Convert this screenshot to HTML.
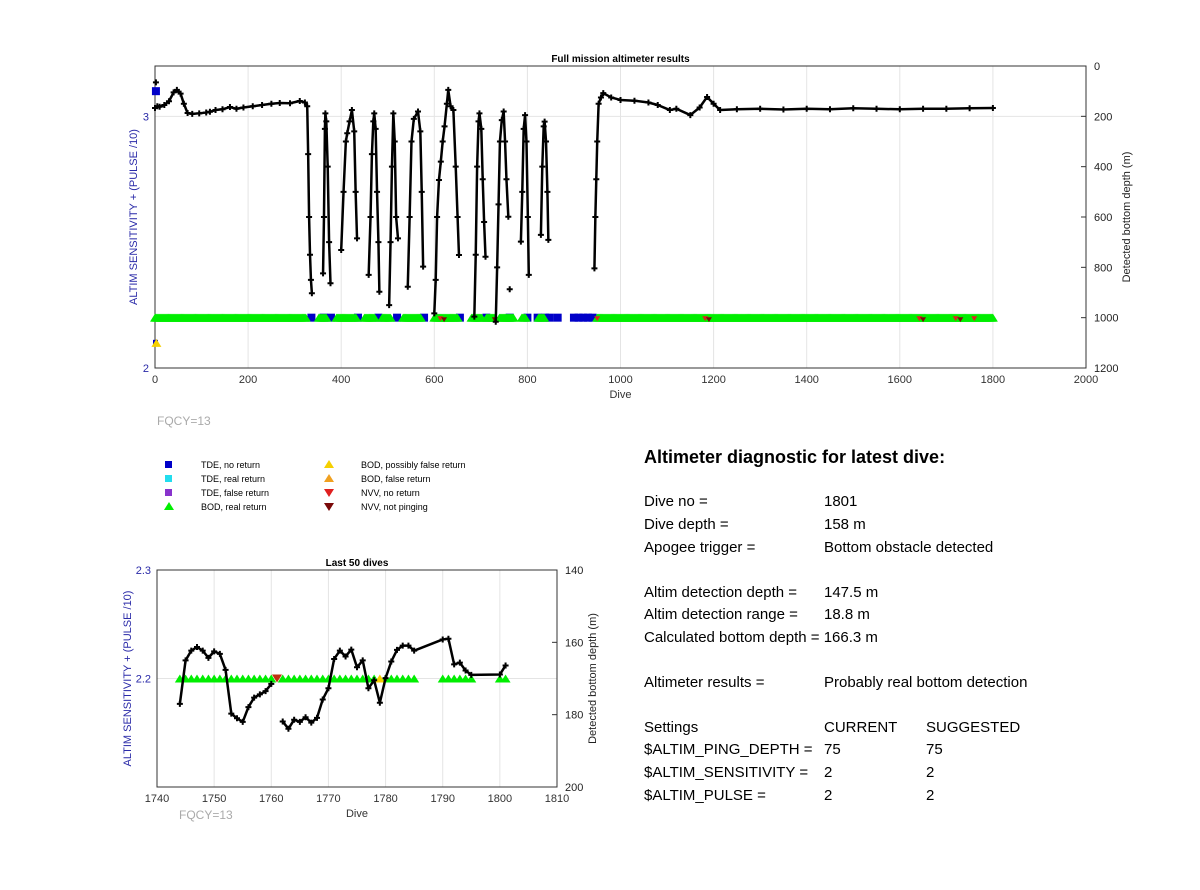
<!DOCTYPE html>
<html><head><meta charset="utf-8"><style>
body{margin:0;background:#fff;}
svg text{font-family:"Liberation Sans",Arial,sans-serif;}
.t{font-size:15px;fill:#000;}
</style></head><body>
<svg width="1200" height="885" viewBox="0 0 1200 885" xmlns="http://www.w3.org/2000/svg">
<g id="top"></g>
<g id="bot"></g>
<g font-size="9">
 <rect x="165" y="461" width="7" height="7" fill="#0000c8"/><text x="201" y="468">TDE, no return</text>
 <rect x="165" y="475" width="7" height="7" fill="#22ddee"/><text x="201" y="482">TDE, real return</text>
 <rect x="165" y="489" width="7" height="7" fill="#8833cc"/><text x="201" y="496">TDE, false return</text>
 <polygon points="164,510 169,502 174,510" fill="#00ee00"/><text x="201" y="510">BOD, real return</text>
 <polygon points="324,468 329,460 334,468" fill="#f5d000"/><text x="361" y="468">BOD, possibly false return</text>
 <polygon points="324,482 329,474 334,482" fill="#f0a020"/><text x="361" y="482">BOD, false return</text>
 <polygon points="324,489 334,489 329,497" fill="#e02020"/><text x="361" y="496">NVV, no return</text>
 <polygon points="324,503 334,503 329,511" fill="#7a0a0a"/><text x="361" y="510">NVV, not pinging</text>
</g>
<text x="157" y="425" font-size="12" fill="#aaa">FQCY=13</text>
<text x="179" y="819" font-size="12" fill="#aaa">FQCY=13</text>
<g>
 <text x="644" y="463" font-size="18" font-weight="bold">Altimeter diagnostic for latest dive:</text>
 <text class="t" x="644" y="506">Dive no =</text><text class="t" x="824" y="506">1801</text>
 <text class="t" x="644" y="529">Dive depth =</text><text class="t" x="824" y="529">158 m</text>
 <text class="t" x="644" y="552">Apogee trigger =</text><text class="t" x="824" y="552">Bottom obstacle detected</text>
 <text class="t" x="644" y="597">Altim detection depth =</text><text class="t" x="824" y="597">147.5 m</text>
 <text class="t" x="644" y="619">Altim detection range =</text><text class="t" x="824" y="619">18.8 m</text>
 <text class="t" x="644" y="642">Calculated bottom depth = 166.3 m</text>
 <text class="t" x="644" y="687">Altimeter results =</text><text class="t" x="824" y="687">Probably real bottom detection</text>
 <text class="t" x="644" y="732">Settings</text><text class="t" x="824" y="732">CURRENT</text><text class="t" x="926" y="732">SUGGESTED</text>
 <text class="t" x="644" y="754">$ALTIM_PING_DEPTH =</text><text class="t" x="824" y="754">75</text><text class="t" x="926" y="754">75</text>
 <text class="t" x="644" y="777">$ALTIM_SENSITIVITY =</text><text class="t" x="824" y="777">2</text><text class="t" x="926" y="777">2</text>
 <text class="t" x="644" y="800">$ALTIM_PULSE =</text><text class="t" x="824" y="800">2</text><text class="t" x="926" y="800">2</text>
</g>
</svg>
<script>
// ---- Top chart data ----
const topDives=[0,5,10,20,30,40,47,55,62,70,80,95,110,118,130,145,161,175,190,210,230,250,268,290,311,322,327,329,331,333,335,337,null,
361,363,365,366,368,371,374,377,null,
400,405,410,413,418,423,428,431,434,null,
459,463,466,469,471,474,477,480,482,null,
503,506,509,512,515,518,522,null,
543,547,551,556,565,570,573,576,null,
600,603,606,610,614,618,622,627,630,635,641,646,650,653,null,
686,689,692,695,697,701,704,707,710,null,
732,735,738,741,745,749,752,755,759,null,
786,789,792,795,798,801,803,null,
829,832,835,837,840,843,845,null,
944,946,948,950,953,958,963,980,1000,1030,1060,1080,1106,1120,1150,1170,1186,1200,1214,1250,1300,1350,1400,1450,1500,1550,1600,1650,1700,1750,1800];
const topDepths=[167,160,162,155,140,105,95,110,150,187,190,188,185,182,175,172,163,170,165,160,155,150,147,148,139,145,160,350,600,750,850,903,null,
824,600,250,188,220,400,700,863,null,
731,500,300,267,220,175,260,500,685,null,
830,600,350,220,188,250,500,700,897,null,
950,700,400,188,300,600,685,null,
877,600,300,210,181,260,500,797,null,
983,850,600,453,380,300,240,150,95,160,175,400,600,751,null,
996,750,400,220,188,250,450,620,758,null,
1016,800,550,300,215,181,300,450,599,null,
698,500,250,195,300,600,830,null,
671,400,240,221,300,500,691,null,
804,600,450,300,150,125,108,125,135,138,145,155,175,170,195,165,123,150,175,172,170,173,170,172,168,170,172,170,170,168,167];
const greenRanges=[[0,325],[352,368],[390,432],[450,472],[488,506],[533,572],[600,650],[680,702],[712,730],[740,770],[788,796],[824,836],[950,1800]];
const blueDives=[336,362,378,436,480,520,578,655,712,762,800,822,838,848,865,900,910,920,930,940];
const redDives=[613,950,1182,1642,1720,1760];
const darkDives=[621,730,1190,1650,1730];

// ---- Bottom chart data ----
const lastDives=[1744,1745,1746,1747,1748,1749,1750,1751,1752,1753,1754,1755,1756,1757,1758,1759,1760,null,1762,1763,1764,1765,1766,1767,1768,1769,1770,1771,1772,1773,1774,1775,1776,1777,1778,1779,1780,1781,1782,1783,1784,1785,1790,1791,1792,1793,1794,1795,1800,1801];
const lastDepths=[177,165,162.3,161.3,162.3,164.3,162.5,163.2,167.6,179.7,181,182,177.9,175.3,174.4,173.5,171.5,null,181.9,183.9,181.4,182,180.7,182.2,180.9,175.8,172.7,164.6,162.3,163.9,162,166.9,165,172.7,170.5,176.7,169.9,165.3,162.1,160.9,160.9,162.3,159.2,159,166.1,165.6,167.8,169,168.9,166.4];
const lastGreen=[1744,1745,1746,1747,1748,1749,1750,1751,1752,1753,1754,1755,1756,1757,1758,1759,1760,1762,1763,1764,1765,1766,1767,1768,1769,1770,1771,1772,1773,1774,1775,1776,1777,1778,1780,1781,1782,1783,1784,1785,1790,1791,1792,1793,1794,1795,1800,1801];
const lastRed=[1761];
const lastYellow=[1779];
const topXTicks=[0,200,400,600,800,1000,1200,1400,1600,1800,2000];
const topRTicks=[0,200,400,600,800,1000,1200];
const botXTicks=[1740,1750,1760,1770,1780,1790,1800,1810];
const botRTicks=[140,160,180,200];

const NS="http://www.w3.org/2000/svg";
function mk(p,tag,attrs,txt){const e=document.createElementNS(NS,tag);for(const k in attrs)e.setAttribute(k,attrs[k]);if(txt!==undefined)e.textContent=txt;p.appendChild(e);return e;}

function drawChart(g,o){
  const {x0,x1,y0,y1,xmin,xmax,lmin,lmax,rmin,rmax}=o;
  const X=d=>x0+(d-xmin)*(x1-x0)/(xmax-xmin);
  const YR=d=>y0+(d-rmin)*(y1-y0)/(rmax-rmin);
  const YL=v=>y1-(v-lmin)*(y1-y0)/(lmax-lmin);
  o.xticks.forEach(t=>{const l=mk(g,'line',{x1:X(t),x2:X(t),y1:y0,y2:y1,stroke:'#e4e4e4'});
    
    
    const tx=mk(g,'text',{x:X(t),y:y1+15,'font-size':11,'text-anchor':'middle',fill:'#333'},t);
    
    });
  o.lticks.forEach(v=>{const l=mk(g,'line',{x1:x0,x2:x1,y1:YL(v),y2:YL(v),stroke:'#e4e4e4'});
    
    
    const tx=mk(g,'text',{x:x0-6,y:YL(v)+4,'font-size':11,'text-anchor':'end',fill:'#2a2aa8'},String(v));
    
    });
  o.rticks.forEach(v=>{mk(g,'line',{x1:x1,x2:x1-5,y1:YR(v),y2:YR(v),stroke:'#333'});
    const tx=mk(g,'text',{x:x1+8,y:YR(v)+4,'font-size':11,fill:'#222'},String(v));
    
    });
  const box=mk(g,'rect',{x:x0,y:y0,width:x1-x0,height:y1-y0,fill:'none',stroke:'#333','stroke-width':1});
  
  
  const tt=mk(g,'text',{x:(x0+x1)/2,y:y0-4,'font-size':10,'font-weight':'bold','text-anchor':'middle'},o.title);
  
  
  const xl=mk(g,'text',{x:(x0+x1)/2,y:y1+30,'font-size':11,'text-anchor':'middle',fill:'#333'},'Dive');
  
  
  const cy=(y0+y1)/2;
  const ll=mk(g,'text',{x:o.llx,y:cy,'font-size':11,'text-anchor':'middle',fill:'#2a2aa8',transform:`rotate(-90 ${o.llx} ${cy})`},'ALTIM SENSITIVITY + (PULSE /10)');
  
  
  const rl=mk(g,'text',{x:o.rlx,y:cy,'font-size':11,'text-anchor':'middle',fill:'#222',transform:`rotate(-90 ${o.rlx} ${cy})`},'Detected bottom depth (m)');
  
  
  return {X,YR,YL};
}
function tri(g,x,y,s,up,fill,name){
  const p=up?`${x-s},${y+s*0.8} ${x},${y-s*0.8} ${x+s},${y+s*0.8}`:`${x-s},${y-s*0.8} ${x+s},${y-s*0.8} ${x},${y+s*0.8}`;
  const e=mk(g,'polygon',{points:p,fill:fill});
  
  
}
function line(g,X,Y,ds,vs,w,ms){
  let segs=[],cur=[];
  ds.forEach((d,i)=>{if(d===null){if(cur.length)segs.push(cur);cur=[];}else cur.push([X(d),Y(vs[i])]);});
  if(cur.length)segs.push(cur);
  segs.forEach(s=>{const pl=mk(g,'polyline',{points:s.map(p=>p.join(',')).join(' '),fill:'none',stroke:'#000','stroke-width':w,'stroke-linejoin':'round'});
    
    
    s.forEach(p=>{const m=mk(g,'path',{d:`M${p[0]-ms},${p[1]}h${2*ms}M${p[0]},${p[1]-ms}v${2*ms}`,stroke:'#000','stroke-width':2});
      
      });});
}

const gt=document.getElementById('top');
const A=drawChart(gt,{x0:155,x1:1086,y0:66,y1:368,xmin:0,xmax:2000,lmin:2,lmax:3.2,rmin:0,rmax:1200,xticks:topXTicks,lticks:[2,3],rticks:topRTicks,title:'Full mission altimeter results',llx:137,rlx:1130});
const yMark=A.YL(2.2);
blueDives.forEach(d=>{const r=mk(gt,'rect',{x:A.X(d)-4,y:yMark-4,width:8,height:8,fill:'#0000c8'});
  
  });
greenRanges.forEach(r=>{for(let d=r[0];d<=r[1];d+=2)tri(gt,A.X(d),yMark,5,true,'#00ee00','bod-real-return-marker');});
redDives.forEach(d=>tri(gt,A.X(d),yMark+1,3,false,'#e02020','nvv-no-return-marker'));
darkDives.forEach(d=>tri(gt,A.X(d),yMark+2,3,false,'#7a0a0a','nvv-not-pinging-marker'));
{const r=mk(gt,'rect',{x:A.X(2)-4,y:A.YL(3.1)-4,width:8,height:8,fill:'#0000c8'});}
{const r=mk(gt,'rect',{x:A.X(0)-2,y:A.YL(2.1)-3,width:5,height:6,fill:'#0000c8'});}
tri(gt,A.X(3),A.YL(2.1),5,true,'#f5d000','bod-possibly-false-marker');
line(gt,A.X,A.YR,topDives,topDepths,2.5,3);
line(gt,A.X,A.YR,[2],[65],2.5,3);
line(gt,A.X,A.YR,[762],[887],2.5,3);

const gb=document.getElementById('bot');
const B=drawChart(gb,{x0:157,x1:557,y0:570,y1:787,xmin:1740,xmax:1810,lmin:2.1,lmax:2.3,rmin:140,rmax:200,xticks:botXTicks,lticks:[2.2,2.3],rticks:botRTicks,title:'Last 50 dives',llx:131,rlx:596});
const yb=B.YL(2.2);
lastGreen.forEach(d=>tri(gb,B.X(d),yb,5,true,'#00ee00','bod-real-return-marker'));
lastRed.forEach(d=>tri(gb,B.X(d),yb,5,false,'#c03010','nvv-no-return-marker'));
lastYellow.forEach(d=>tri(gb,B.X(d),yb,5,true,'#f5d000','bod-possibly-false-marker'));
line(gb,B.X,B.YR,lastDives,lastDepths,2.5,3);
</script>
</body></html>
